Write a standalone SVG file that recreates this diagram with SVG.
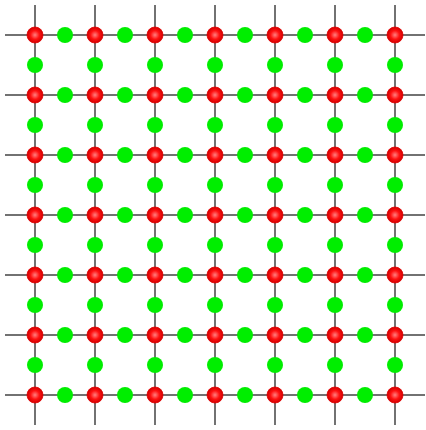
<svg xmlns="http://www.w3.org/2000/svg" width="426" height="430" viewBox="0 0 426 430">
<defs>
<radialGradient id="rg" cx="50%" cy="50%" r="50%">
<stop offset="0%" stop-color="#ff8080"/>
<stop offset="55%" stop-color="#ff1010"/>
<stop offset="100%" stop-color="#d00000"/>
</radialGradient>
</defs>
<style>
.ln{stroke:#444;stroke-width:1.5;fill:none}
.r{fill:url(#rg);stroke:#e00000;stroke-width:0.8}
.g{fill:#00ee00}
</style>
<rect width="426" height="430" fill="#fff"/>
<g id="connectors" class="ln">
<path d="M5 35H425M5 95H425M5 155H425M5 215H425M5 275H425M5 335H425M5 395H425"/>
<path d="M35 5V425M95 5V425M155 5V425M215 5V425M275 5V425M335 5V425M395 5V425"/>
</g>
<g id="green-h">
<g id="gh-0-0"><circle class="g" cx="65" cy="35" r="8"/></g><g id="gh-0-1"><circle class="g" cx="125" cy="35" r="8"/></g><g id="gh-0-2"><circle class="g" cx="185" cy="35" r="8"/></g><g id="gh-0-3"><circle class="g" cx="245" cy="35" r="8"/></g><g id="gh-0-4"><circle class="g" cx="305" cy="35" r="8"/></g><g id="gh-0-5"><circle class="g" cx="365" cy="35" r="8"/></g>
<g id="gh-1-0"><circle class="g" cx="65" cy="95" r="8"/></g><g id="gh-1-1"><circle class="g" cx="125" cy="95" r="8"/></g><g id="gh-1-2"><circle class="g" cx="185" cy="95" r="8"/></g><g id="gh-1-3"><circle class="g" cx="245" cy="95" r="8"/></g><g id="gh-1-4"><circle class="g" cx="305" cy="95" r="8"/></g><g id="gh-1-5"><circle class="g" cx="365" cy="95" r="8"/></g>
<g id="gh-2-0"><circle class="g" cx="65" cy="155" r="8"/></g><g id="gh-2-1"><circle class="g" cx="125" cy="155" r="8"/></g><g id="gh-2-2"><circle class="g" cx="185" cy="155" r="8"/></g><g id="gh-2-3"><circle class="g" cx="245" cy="155" r="8"/></g><g id="gh-2-4"><circle class="g" cx="305" cy="155" r="8"/></g><g id="gh-2-5"><circle class="g" cx="365" cy="155" r="8"/></g>
<g id="gh-3-0"><circle class="g" cx="65" cy="215" r="8"/></g><g id="gh-3-1"><circle class="g" cx="125" cy="215" r="8"/></g><g id="gh-3-2"><circle class="g" cx="185" cy="215" r="8"/></g><g id="gh-3-3"><circle class="g" cx="245" cy="215" r="8"/></g><g id="gh-3-4"><circle class="g" cx="305" cy="215" r="8"/></g><g id="gh-3-5"><circle class="g" cx="365" cy="215" r="8"/></g>
<g id="gh-4-0"><circle class="g" cx="65" cy="275" r="8"/></g><g id="gh-4-1"><circle class="g" cx="125" cy="275" r="8"/></g><g id="gh-4-2"><circle class="g" cx="185" cy="275" r="8"/></g><g id="gh-4-3"><circle class="g" cx="245" cy="275" r="8"/></g><g id="gh-4-4"><circle class="g" cx="305" cy="275" r="8"/></g><g id="gh-4-5"><circle class="g" cx="365" cy="275" r="8"/></g>
<g id="gh-5-0"><circle class="g" cx="65" cy="335" r="8"/></g><g id="gh-5-1"><circle class="g" cx="125" cy="335" r="8"/></g><g id="gh-5-2"><circle class="g" cx="185" cy="335" r="8"/></g><g id="gh-5-3"><circle class="g" cx="245" cy="335" r="8"/></g><g id="gh-5-4"><circle class="g" cx="305" cy="335" r="8"/></g><g id="gh-5-5"><circle class="g" cx="365" cy="335" r="8"/></g>
<g id="gh-6-0"><circle class="g" cx="65" cy="395" r="8"/></g><g id="gh-6-1"><circle class="g" cx="125" cy="395" r="8"/></g><g id="gh-6-2"><circle class="g" cx="185" cy="395" r="8"/></g><g id="gh-6-3"><circle class="g" cx="245" cy="395" r="8"/></g><g id="gh-6-4"><circle class="g" cx="305" cy="395" r="8"/></g><g id="gh-6-5"><circle class="g" cx="365" cy="395" r="8"/></g>
</g>
<g id="green-v">
<g id="gv-0-0"><circle class="g" cx="35" cy="65" r="8"/></g><g id="gv-0-1"><circle class="g" cx="95" cy="65" r="8"/></g><g id="gv-0-2"><circle class="g" cx="155" cy="65" r="8"/></g><g id="gv-0-3"><circle class="g" cx="215" cy="65" r="8"/></g><g id="gv-0-4"><circle class="g" cx="275" cy="65" r="8"/></g><g id="gv-0-5"><circle class="g" cx="335" cy="65" r="8"/></g><g id="gv-0-6"><circle class="g" cx="395" cy="65" r="8"/></g>
<g id="gv-1-0"><circle class="g" cx="35" cy="125" r="8"/></g><g id="gv-1-1"><circle class="g" cx="95" cy="125" r="8"/></g><g id="gv-1-2"><circle class="g" cx="155" cy="125" r="8"/></g><g id="gv-1-3"><circle class="g" cx="215" cy="125" r="8"/></g><g id="gv-1-4"><circle class="g" cx="275" cy="125" r="8"/></g><g id="gv-1-5"><circle class="g" cx="335" cy="125" r="8"/></g><g id="gv-1-6"><circle class="g" cx="395" cy="125" r="8"/></g>
<g id="gv-2-0"><circle class="g" cx="35" cy="185" r="8"/></g><g id="gv-2-1"><circle class="g" cx="95" cy="185" r="8"/></g><g id="gv-2-2"><circle class="g" cx="155" cy="185" r="8"/></g><g id="gv-2-3"><circle class="g" cx="215" cy="185" r="8"/></g><g id="gv-2-4"><circle class="g" cx="275" cy="185" r="8"/></g><g id="gv-2-5"><circle class="g" cx="335" cy="185" r="8"/></g><g id="gv-2-6"><circle class="g" cx="395" cy="185" r="8"/></g>
<g id="gv-3-0"><circle class="g" cx="35" cy="245" r="8"/></g><g id="gv-3-1"><circle class="g" cx="95" cy="245" r="8"/></g><g id="gv-3-2"><circle class="g" cx="155" cy="245" r="8"/></g><g id="gv-3-3"><circle class="g" cx="215" cy="245" r="8"/></g><g id="gv-3-4"><circle class="g" cx="275" cy="245" r="8"/></g><g id="gv-3-5"><circle class="g" cx="335" cy="245" r="8"/></g><g id="gv-3-6"><circle class="g" cx="395" cy="245" r="8"/></g>
<g id="gv-4-0"><circle class="g" cx="35" cy="305" r="8"/></g><g id="gv-4-1"><circle class="g" cx="95" cy="305" r="8"/></g><g id="gv-4-2"><circle class="g" cx="155" cy="305" r="8"/></g><g id="gv-4-3"><circle class="g" cx="215" cy="305" r="8"/></g><g id="gv-4-4"><circle class="g" cx="275" cy="305" r="8"/></g><g id="gv-4-5"><circle class="g" cx="335" cy="305" r="8"/></g><g id="gv-4-6"><circle class="g" cx="395" cy="305" r="8"/></g>
<g id="gv-5-0"><circle class="g" cx="35" cy="365" r="8"/></g><g id="gv-5-1"><circle class="g" cx="95" cy="365" r="8"/></g><g id="gv-5-2"><circle class="g" cx="155" cy="365" r="8"/></g><g id="gv-5-3"><circle class="g" cx="215" cy="365" r="8"/></g><g id="gv-5-4"><circle class="g" cx="275" cy="365" r="8"/></g><g id="gv-5-5"><circle class="g" cx="335" cy="365" r="8"/></g><g id="gv-5-6"><circle class="g" cx="395" cy="365" r="8"/></g>
</g>
<g id="red">
<g id="r-0-0"><circle class="r" cx="35" cy="35" r="8"/></g><g id="r-0-1"><circle class="r" cx="95" cy="35" r="8"/></g><g id="r-0-2"><circle class="r" cx="155" cy="35" r="8"/></g><g id="r-0-3"><circle class="r" cx="215" cy="35" r="8"/></g><g id="r-0-4"><circle class="r" cx="275" cy="35" r="8"/></g><g id="r-0-5"><circle class="r" cx="335" cy="35" r="8"/></g><g id="r-0-6"><circle class="r" cx="395" cy="35" r="8"/></g>
<g id="r-1-0"><circle class="r" cx="35" cy="95" r="8"/></g><g id="r-1-1"><circle class="r" cx="95" cy="95" r="8"/></g><g id="r-1-2"><circle class="r" cx="155" cy="95" r="8"/></g><g id="r-1-3"><circle class="r" cx="215" cy="95" r="8"/></g><g id="r-1-4"><circle class="r" cx="275" cy="95" r="8"/></g><g id="r-1-5"><circle class="r" cx="335" cy="95" r="8"/></g><g id="r-1-6"><circle class="r" cx="395" cy="95" r="8"/></g>
<g id="r-2-0"><circle class="r" cx="35" cy="155" r="8"/></g><g id="r-2-1"><circle class="r" cx="95" cy="155" r="8"/></g><g id="r-2-2"><circle class="r" cx="155" cy="155" r="8"/></g><g id="r-2-3"><circle class="r" cx="215" cy="155" r="8"/></g><g id="r-2-4"><circle class="r" cx="275" cy="155" r="8"/></g><g id="r-2-5"><circle class="r" cx="335" cy="155" r="8"/></g><g id="r-2-6"><circle class="r" cx="395" cy="155" r="8"/></g>
<g id="r-3-0"><circle class="r" cx="35" cy="215" r="8"/></g><g id="r-3-1"><circle class="r" cx="95" cy="215" r="8"/></g><g id="r-3-2"><circle class="r" cx="155" cy="215" r="8"/></g><g id="r-3-3"><circle class="r" cx="215" cy="215" r="8"/></g><g id="r-3-4"><circle class="r" cx="275" cy="215" r="8"/></g><g id="r-3-5"><circle class="r" cx="335" cy="215" r="8"/></g><g id="r-3-6"><circle class="r" cx="395" cy="215" r="8"/></g>
<g id="r-4-0"><circle class="r" cx="35" cy="275" r="8"/></g><g id="r-4-1"><circle class="r" cx="95" cy="275" r="8"/></g><g id="r-4-2"><circle class="r" cx="155" cy="275" r="8"/></g><g id="r-4-3"><circle class="r" cx="215" cy="275" r="8"/></g><g id="r-4-4"><circle class="r" cx="275" cy="275" r="8"/></g><g id="r-4-5"><circle class="r" cx="335" cy="275" r="8"/></g><g id="r-4-6"><circle class="r" cx="395" cy="275" r="8"/></g>
<g id="r-5-0"><circle class="r" cx="35" cy="335" r="8"/></g><g id="r-5-1"><circle class="r" cx="95" cy="335" r="8"/></g><g id="r-5-2"><circle class="r" cx="155" cy="335" r="8"/></g><g id="r-5-3"><circle class="r" cx="215" cy="335" r="8"/></g><g id="r-5-4"><circle class="r" cx="275" cy="335" r="8"/></g><g id="r-5-5"><circle class="r" cx="335" cy="335" r="8"/></g><g id="r-5-6"><circle class="r" cx="395" cy="335" r="8"/></g>
<g id="r-6-0"><circle class="r" cx="35" cy="395" r="8"/></g><g id="r-6-1"><circle class="r" cx="95" cy="395" r="8"/></g><g id="r-6-2"><circle class="r" cx="155" cy="395" r="8"/></g><g id="r-6-3"><circle class="r" cx="215" cy="395" r="8"/></g><g id="r-6-4"><circle class="r" cx="275" cy="395" r="8"/></g><g id="r-6-5"><circle class="r" cx="335" cy="395" r="8"/></g><g id="r-6-6"><circle class="r" cx="395" cy="395" r="8"/></g>
</g>
</svg>
